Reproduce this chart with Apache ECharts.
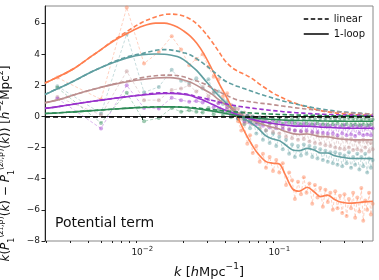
<!DOCTYPE html>
<html><head><meta charset="utf-8">
<script src="https://cdn.jsdelivr.net/npm/echarts@6/dist/echarts.min.js"></script>
<style>html,body{margin:0;padding:0;background:#fff}#c{width:379px;height:280px}</style>
</head><body><div id="c"></div>
<script>
// ---------- data ----------
const kLine = [0.00195,0.0025,0.0032,0.004,0.005,0.0063,0.008,0.01,0.0125,0.0145,0.016,0.018,0.02,0.0225,0.025,0.028,0.032,0.036,0.04,0.045,0.05,0.056,0.063,0.07,0.08,0.09,0.1,0.11,0.125,0.14,0.16,0.18,0.2,0.225,0.25,0.28,0.32,0.36,0.4,0.44,0.483];

const orangeLoop = [2.15,2.6,3.1,3.7,4.3,4.9,5.4,5.8,6.0,6.0,5.93,5.75,5.5,5.15,4.7,4.05,3.1,2.2,1.45,0.6,-0.1,-1.0,-1.8,-2.4,-2.9,-3.0,-3.05,-3.7,-4.65,-4.8,-4.55,-4.85,-5.15,-5.05,-5.3,-5.5,-5.57,-5.55,-5.5,-5.47,-5.45];
const orangeLin  = [2.15,2.6,3.1,3.7,4.3,4.95,5.55,6.05,6.4,6.55,6.58,6.55,6.45,6.25,5.95,5.5,4.85,4.2,3.6,3.15,2.9,2.7,2.45,2.15,1.8,1.5,1.3,1.12,0.92,0.76,0.6,0.48,0.38,0.3,0.24,0.19,0.15,0.12,0.1,0.09,0.08];
const tealLoop   = [1.42,1.85,2.3,2.75,3.15,3.5,3.8,3.97,4.02,4.0,3.95,3.85,3.65,3.3,2.95,2.45,1.85,1.35,0.95,0.5,0.12,-0.15,-0.45,-0.75,-1.25,-1.45,-1.55,-1.8,-2.15,-2.2,-2.05,-2.15,-2.35,-2.35,-2.5,-2.6,-2.68,-2.7,-2.7,-2.7,-2.7];
const tealLin    = [1.42,1.85,2.3,2.75,3.15,3.55,3.87,4.05,4.25,4.3,4.28,4.2,4.1,3.95,3.7,3.4,3.0,2.62,2.3,2.08,1.92,1.78,1.62,1.48,1.32,1.18,1.07,0.97,0.85,0.75,0.65,0.55,0.48,0.42,0.36,0.31,0.27,0.23,0.2,0.18,0.16];
const rosyLoop   = [0.88,1.1,1.4,1.65,1.88,2.08,2.25,2.38,2.47,2.5,2.5,2.45,2.35,2.2,2.0,1.75,1.45,1.1,0.8,0.5,0.25,0.0,-0.22,-0.4,-0.58,-0.7,-0.8,-0.95,-1.1,-1.15,-1.12,-1.2,-1.3,-1.3,-1.38,-1.45,-1.48,-1.5,-1.5,-1.5,-1.5];
const rosyLin    = [0.88,1.1,1.4,1.65,1.88,2.1,2.3,2.5,2.62,2.66,2.66,2.63,2.55,2.4,2.28,2.12,1.85,1.6,1.42,1.2,1.05,1.0,0.93,0.87,0.82,0.76,0.7,0.65,0.58,0.53,0.47,0.42,0.38,0.34,0.3,0.27,0.24,0.21,0.19,0.17,0.16];
const purpleLoop = [0.52,0.65,0.8,0.93,1.05,1.17,1.28,1.38,1.45,1.48,1.48,1.47,1.43,1.35,1.2,1.05,0.8,0.6,0.42,0.25,0.1,-0.05,-0.18,-0.28,-0.38,-0.45,-0.5,-0.55,-0.6,-0.62,-0.62,-0.65,-0.68,-0.7,-0.72,-0.74,-0.75,-0.76,-0.76,-0.76,-0.76];
const purpleLin  = [0.52,0.65,0.8,0.93,1.05,1.17,1.29,1.4,1.5,1.52,1.52,1.5,1.46,1.38,1.28,1.18,1.05,0.93,0.83,0.74,0.66,0.6,0.54,0.49,0.43,0.38,0.34,0.3,0.26,0.23,0.2,0.17,0.15,0.13,0.12,0.1,0.09,0.08,0.07,0.06,0.06];
const greenLoop  = [0.19,0.24,0.3,0.36,0.42,0.48,0.54,0.58,0.61,0.62,0.62,0.61,0.59,0.55,0.5,0.44,0.36,0.28,0.2,0.12,0.04,-0.03,-0.08,-0.12,-0.16,-0.19,-0.21,-0.23,-0.25,-0.26,-0.26,-0.27,-0.28,-0.29,-0.3,-0.3,-0.31,-0.31,-0.31,-0.31,-0.31];
const greenLin   = [0.19,0.24,0.3,0.36,0.42,0.48,0.54,0.59,0.62,0.63,0.63,0.62,0.6,0.58,0.55,0.5,0.45,0.4,0.35,0.31,0.28,0.25,0.22,0.2,0.17,0.15,0.13,0.12,0.1,0.09,0.08,0.07,0.06,0.05,0.05,0.04,0.04,0.03,0.03,0.03,0.03];

const kSim = [0.0024,0.0050,0.0077,0.0103,0.0132,0.0164,0.0192,0.0220,0.0248,0.0276,0.0304,0.0332,0.0360,0.0388,0.0416,0.0444,0.0472,0.0500,0.0528,0.0556,0.0584,0.0612,0.064,0.068,0.072,0.076,0.080,0.085,0.090,0.095,0.100,0.106,0.112,0.118,0.124,0.130,0.137,0.144,0.151,0.158,0.166,0.174,0.182,0.190,0.199,0.208,0.217,0.226,0.236,0.246,0.256,0.266,0.277,0.288,0.299,0.310,0.322,0.334,0.346,0.358,0.371,0.384,0.397,0.410,0.424,0.438,0.452,0.466,0.480];
const orangeSim = [2.5,1.1,7.0,3.4,4.15,5.15,4.3,3.3,3.7,4.0, 3.2,2.55,2.4,1.3,1.5,0.4,0.5,-0.3,-0.9,-0.45, -1.75,-1.2,-2.35,-1.9,-2.9,-2.4,-3.3,-2.6,-3.5,-2.8, -3.6,-3.0,-4.4,-3.6,-4.1,-5.3,-4.2,-5.0,-3.9,-4.9, -4.3,-5.6,-4.4,-5.2,-4.6,-5.8,-4.7,-5.5,-4.9,-6.0, -4.8,-5.9,-5.1,-6.2,-5.0,-6.4,-5.3,-5.9,-4.9,-6.5, -5.2,-6.1,-4.6,-6.7,-5.4,-6.0,-4.9,-6.3,-5.6];
const tealSim = [1.95,0.2,5.3,1.55,1.9,3.0,2.3,2.15,2.45,1.8, 2.4,1.5,1.6,0.8,1.0,0.3,0.6,-0.1,0.25,-0.5, 0.0,-0.75,-0.2,-1.1,-0.5,-1.5,-0.9,-1.7,-1.1,-1.9, -1.3,-2.1,-1.5,-2.4,-1.8,-2.6,-1.9,-2.5,-1.8,-2.4, -1.9,-2.6,-2.0,-2.7,-2.1,-2.8,-2.2,-2.9,-2.3,-3.0, -2.3,-3.1,-2.4,-3.2,-2.5,-3.0,-2.3,-3.3,-2.6,-3.1, -2.4,-3.4,-2.6,-3.2,-2.4,-3.6,-2.7,-3.3,-2.8];
const rosySim = [1.26,0.1,2.9,1.05,1.05,1.7,1.8,2.0,1.6,1.9, 1.3,1.6,0.9,1.1,0.45,0.75,0.2,0.5,-0.15,0.25, -0.35,0.05,-0.5,-0.15,-0.75,-0.3,-0.9,-0.45,-1.0,-0.55, -1.1,-0.65,-1.3,-0.8,-1.4,-0.9,-1.5,-0.95,-1.45,-1.0, -1.6,-1.05,-1.7,-1.1,-1.75,-1.2,-1.85,-1.25,-1.9,-1.3, -2.0,-1.35,-2.05,-1.4,-2.1,-1.5,-2.0,-1.45,-2.15,-1.55, -2.1,-1.6,-2.2,-1.5,-2.0,-1.6,-2.25,-1.7,-2.1];
const purpleSim = [1.16,-0.77,2.0,0.55,0.52,1.2,1.05,0.95,1.0,0.9, 1.1,0.6,0.85,0.3,0.6,0.1,0.35,-0.1,0.2,-0.3, 0.05,-0.4,-0.05,-0.5,-0.1,-0.6,-0.2,-0.7,-0.25,-0.75, -0.3,-0.8,-0.35,-0.85,-0.4,-0.9,-0.45,-0.95,-0.45,-0.9, -0.5,-1.0,-0.5,-1.0,-0.55,-1.05,-0.55,-1.1,-0.6,-1.1, -0.6,-1.2,-0.65,-1.1,-0.55,-1.2,-0.7,-1.15,-0.6,-1.25, -0.65,-1.1,-0.6,-1.2,-0.7,-1.15,-0.6,-1.2,-0.75];
const greenSim = [1.85,-0.41,1.52,-0.3,-0.1,0.55,0.3,0.4,0.3,0.25, 0.55,0.15,0.45,0.05,0.3,-0.05,0.2,-0.15,0.1,-0.2, 0.05,-0.3,0.0,-0.35,-0.05,-0.35,-0.05,-0.4,-0.1,-0.4, -0.1,-0.45,-0.1,-0.4,-0.15,-0.45,-0.1,-0.5,-0.15,-0.45, -0.1,-0.5,-0.15,-0.45,-0.1,-0.5,-0.15,-0.55,-0.1,-0.5, -0.15,-0.45,-0.1,-0.55,-0.15,-0.5,-0.1,-0.55,-0.15,-0.5, -0.1,-0.55,-0.2,-0.5,-0.1,-0.55,-0.15,-0.5,-0.2];

const xMajor = [0.01, 0.1];
const xMajorExp = ['−2', '−1'];
const xMinor = [0.002,0.003,0.004,0.005,0.006,0.007,0.008,0.009,0.02,0.03,0.04,0.05,0.06,0.07,0.08,0.09,0.2,0.3,0.4];
const yTicks = [-8,-6,-4,-2,0,2,4,6];
const legendNames = ['linear', '1-loop'];
const annotation = 'Potential term';

// ---------- chart ----------
const FONT = 'DejaVu Sans';
const C = { orange:'#FF7F50', teal:'#5F9EA0', rosy:'#BC8F8F', purple:'#9932CC', green:'#2E8B57' };
const groups = [
  ['orange', orangeSim, orangeLin, orangeLoop],
  ['teal', tealSim, tealLin, tealLoop],
  ['rosy', rosySim, rosyLin, rosyLoop],
  ['purple', purpleSim, purpleLin, purpleLoop],
  ['green', greenSim, greenLin, greenLoop]
];
const pairs = (xs, ys) => xs.map((x, i) => [x, ys[i]]);

const series = [];
groups.forEach(([c, sim]) => {
  series.push({
    type: 'line', data: pairs(kSim, sim), symbol: 'circle', symbolSize: 4,
    itemStyle: { color: C[c], opacity: 0.45 },
    lineStyle: { color: C[c], width: 0.8, type: [3, 2], opacity: 0.45 },
    z: 1, silent: true
  });
});
groups.forEach(([c, sim, lin, loop]) => {
  series.push({
    type: 'line', data: pairs(kLine, lin), symbol: 'none', smooth: 0.35,
    lineStyle: { color: C[c], width: 1.6, type: [4.5, 2.5] }, z: 3, silent: true
  });
  series.push({
    type: 'line', data: pairs(kLine, loop), symbol: 'none', smooth: 0.35,
    lineStyle: { color: C[c], width: 1.6, type: 'solid' }, z: 3, silent: true
  });
});
// legend proxies
series.push({ name: legendNames[0], type: 'line', data: [], symbol: 'none',
  itemStyle: { color: '#000' }, lineStyle: { color: '#000', width: 1.5, type: [4.5, 2.5] } });
series.push({ name: legendNames[1], type: 'line', data: [], symbol: 'none',
  itemStyle: { color: '#000' }, lineStyle: { color: '#000', width: 1.5, type: 'solid' },
  markLine: { silent: true, symbol: 'none', label: { show: false }, z: 10,
    lineStyle: { color: '#000', width: 1.5, type: [5, 3] }, data: [{ yAxis: 0 }] } });

const mkRich = (fs, ss) => ({
  n: { fontFamily: FONT, fontSize: fs, color: '#111', lineHeight: fs + 7 },
  i: { fontFamily: FONT, fontSize: fs, color: '#111', fontStyle: 'italic', lineHeight: fs + 7 },
  sup: { fontFamily: FONT, fontSize: ss, color: '#111', verticalAlign: 'top', lineHeight: ss + 3 },
  supi: { fontFamily: FONT, fontSize: ss, color: '#111', fontStyle: 'italic', verticalAlign: 'top', lineHeight: ss + 3 },
  sub: { fontFamily: FONT, fontSize: ss, color: '#111', verticalAlign: 'bottom', lineHeight: ss + 3 }
});

const option = {
  animation: false,
  backgroundColor: '#fff',
  grid: { left: 45, right: 6, top: 6, bottom: 39, show: true, borderColor: '#888', borderWidth: 1,
    containLabel: false, outerBoundsMode: 'none' },
  title: { text: annotation, left: 50, top: 211, textStyle: { fontFamily: FONT, fontSize: 14, fontWeight: 'normal', color: '#111' } },
  legend: {
    orient: 'vertical', left: 298, top: 9, itemWidth: 25, itemHeight: 10, itemGap: 5,
    data: legendNames, textStyle: { fontFamily: FONT, fontSize: 10, color: '#111' },
    itemStyle: { opacity: 0 }, lineStyle: { width: 1.5 }
  },
  xAxis: [{
    type: 'log', logBase: 10, min: 0.00195, max: 0.483,
    axisLine: { show: true, lineStyle: { color: '#222', width: 1 } },
    axisTick: { show: true, customValues: xMajor, length: 3.5, lineStyle: { color: '#222', width: 1 } },
    axisLabel: {
      customValues: xMajor, margin: 5,
      formatter: v => { const i = xMajor.findIndex(m => Math.abs(m - v) / m < 1e-6); return i < 0 ? '' : '{b|10}{s|' + xMajorExp[i] + '}'; },
      rich: {
        b: { fontFamily: FONT, fontSize: 9, color: '#222', lineHeight: 14 },
        s: { fontFamily: FONT, fontSize: 7, color: '#222', verticalAlign: 'top', lineHeight: 9 }
      }
    },
    splitLine: { show: false },
    name: '{i|k}{n| [}{i|h}{n|Mpc}{sup|−1}{n|]}', nameLocation: 'middle', nameGap: 17,
    nameTextStyle: { fontFamily: FONT, fontSize: 13, color: '#111', rich: mkRich(13, 9) }
  }, {
    type: 'log', logBase: 10, min: 0.00195, max: 0.483, position: 'bottom', offset: 0,
    axisLine: { show: false },
    axisTick: { show: true, customValues: xMinor, length: 2, lineStyle: { color: '#222', width: 1 } },
    axisLabel: { show: false }, splitLine: { show: false }
  }],
  yAxis: {
    type: 'value', min: -8, max: 7.1,
    axisLine: { show: true, lineStyle: { color: '#222', width: 1 } },
    axisTick: { show: true, customValues: yTicks, length: 3.5, lineStyle: { color: '#222', width: 1 } },
    axisLabel: { customValues: yTicks, margin: 5, fontFamily: FONT, fontSize: 9, color: '#222', formatter: v => (v < 0 ? '−' + (-v) : '' + v) },
    splitLine: { show: false },
    name: '{i|k}{n|(}{i|P}{sub|1}{sup|(}{supi|z}{sup|₁,β)}{n|(}{i|k}{n|) − }{i|P}{sub|1}{sup|(}{supi|z}{sup|₀,β)}{n|(}{i|k}{n|)) [}{i|h}{sup|−2}{n|Mpc}{sup|2}{n|]}',
    nameLocation: 'middle', nameRotate: 90, nameGap: 21,
    nameTextStyle: { fontFamily: FONT, fontSize: 12, color: '#111', rich: mkRich(12, 8), padding: [0, 80, 0, 0] }
  },
  series
};
const chart = echarts.init(document.getElementById('c'), null, { renderer: 'canvas' });
chart.setOption(option);
</script>
</body></html>
